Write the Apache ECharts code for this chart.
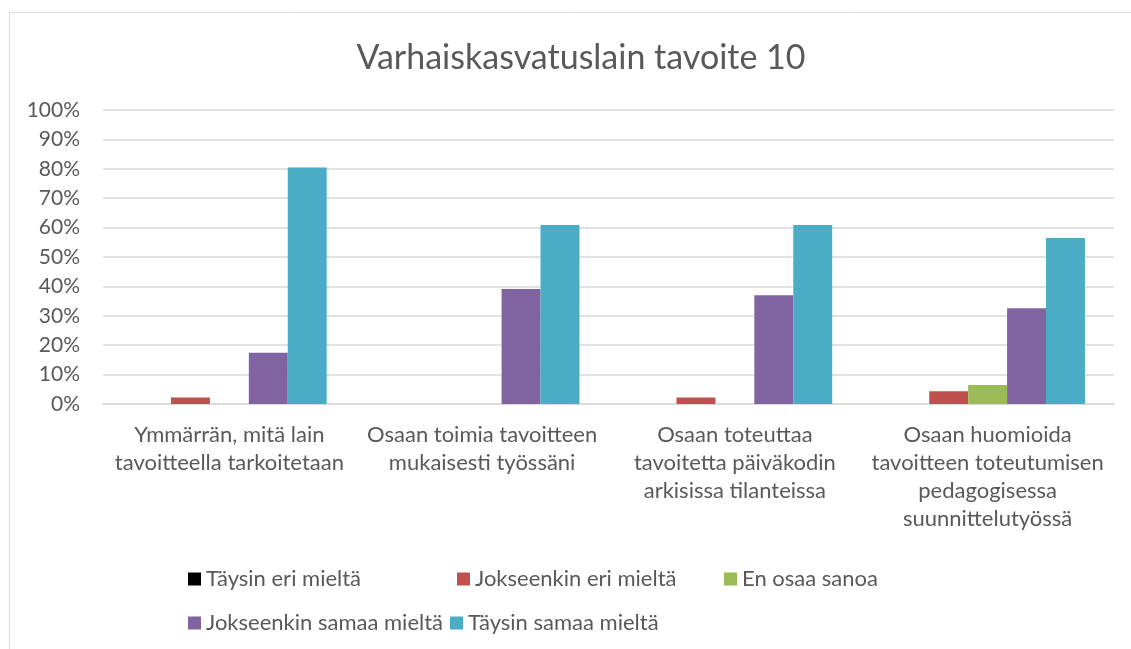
<!DOCTYPE html>
<html>
<head>
<meta charset="utf-8">
<script src="https://cdn.jsdelivr.net/npm/echarts@6/dist/echarts.min.js"></script>
<style>
	html, body { margin: 0; padding: 0; background: #fff; }
	#chart { width: 1131px; height: 649px; }
</style>
</head>
<body>
<div id="chart"></div>
<script>
const categories = [
	'Ymmärrän, mitä lain\ntavoitteella tarkoitetaan',
	'Osaan toimia tavoitteen\nmukaisesti työssäni',
	'Osaan toteuttaa\ntavoitetta päiväkodin\narkisissa tilanteissa',
	'Osaan huomioida\ntavoitteen toteutumisen\npedagogisessa\nsuunnittelutyössä'
];
const seriesNames = [
	'Täysin eri mieltä',
	'Jokseenkin eri mieltä',
	'En osaa sanoa',
	'Jokseenkin samaa mieltä',
	'Täysin samaa mieltä'
];
// osuudet prosentteina
const taysinEri = [0, 0, 0, 0];
const jokseenkinEri = [2.2, 0, 2.2, 4.3];
const enOsaa = [0, 0, 0, 6.5];
const jokseenkinSamaa = [17.4, 39.1, 37.0, 32.6];
const taysinSamaa = [80.4, 60.9, 60.9, 56.5];
const colors = ['#000000', '#c0504d', '#9bbb59', '#8064a2', '#4bacc6'];

const values = [taysinEri, jokseenkinEri, enOsaa, jokseenkinSamaa, taysinSamaa];
const legendPos = [[183, 563], [452, 563], [719, 563], [183, 607], [445, 607]];
const font = 'Lato, "Liberation Sans", sans-serif';

const chart = echarts.init(document.getElementById('chart'));
chart.setOption({
	animation: false,
	color: colors,
	textStyle: { fontFamily: font },
	graphic: [{
		type: 'rect',
		shape: { x: 9.5, y: 12.5, width: 1140, height: 660 },
		style: { fill: 'none', stroke: '#d9d9d9', lineWidth: 1 }
	}],
	title: {
		text: 'Varhaiskasvatuslain tavoite 10',
		left: 576,
		textAlign: 'center',
		top: 36,
		textStyle: {
			fontFamily: font,
			fontSize: 34,
			fontWeight: 'normal',
			color: '#595959'
		}
	},
	legend: legendPos.map((p, i) => ({
		data: [seriesNames[i]],
		left: p[0],
		top: p[1],
		itemWidth: 13,
		itemHeight: 13,
		icon: 'rect',
		textStyle: {
			fontFamily: font,
			fontSize: 22,
			lineHeight: 22,
			color: '#595959'
		}
	})),
	grid: {
		left: 103,
		right: 17,
		top: 110,
		bottom: 245,
		containLabel: false
	},
	xAxis: {
		type: 'category',
		data: categories,
		axisLine: { lineStyle: { color: '#d9d9d9', width: 1.5 } },
		axisTick: { show: false },
		axisLabel: {
			interval: 0,
			margin: 17,
			fontFamily: font,
			fontSize: 22,
			lineHeight: 28,
			color: '#595959'
		}
	},
	yAxis: {
		type: 'value',
		min: 0,
		max: 100,
		interval: 10,
		axisLine: { show: false },
		axisTick: { show: false },
		splitLine: { lineStyle: { color: '#d9d9d9', width: 1.5 } },
		axisLabel: {
			formatter: '{value}%',
			margin: 23,
			fontFamily: font,
			fontSize: 21,
			color: '#595959'
		}
	},
	series: seriesNames.map((name, i) => ({
		name: name,
		type: 'bar',
		data: values[i],
		barGap: '0%',
		barCategoryGap: '23%'
	}))
});
</script>
</body>
</html>
